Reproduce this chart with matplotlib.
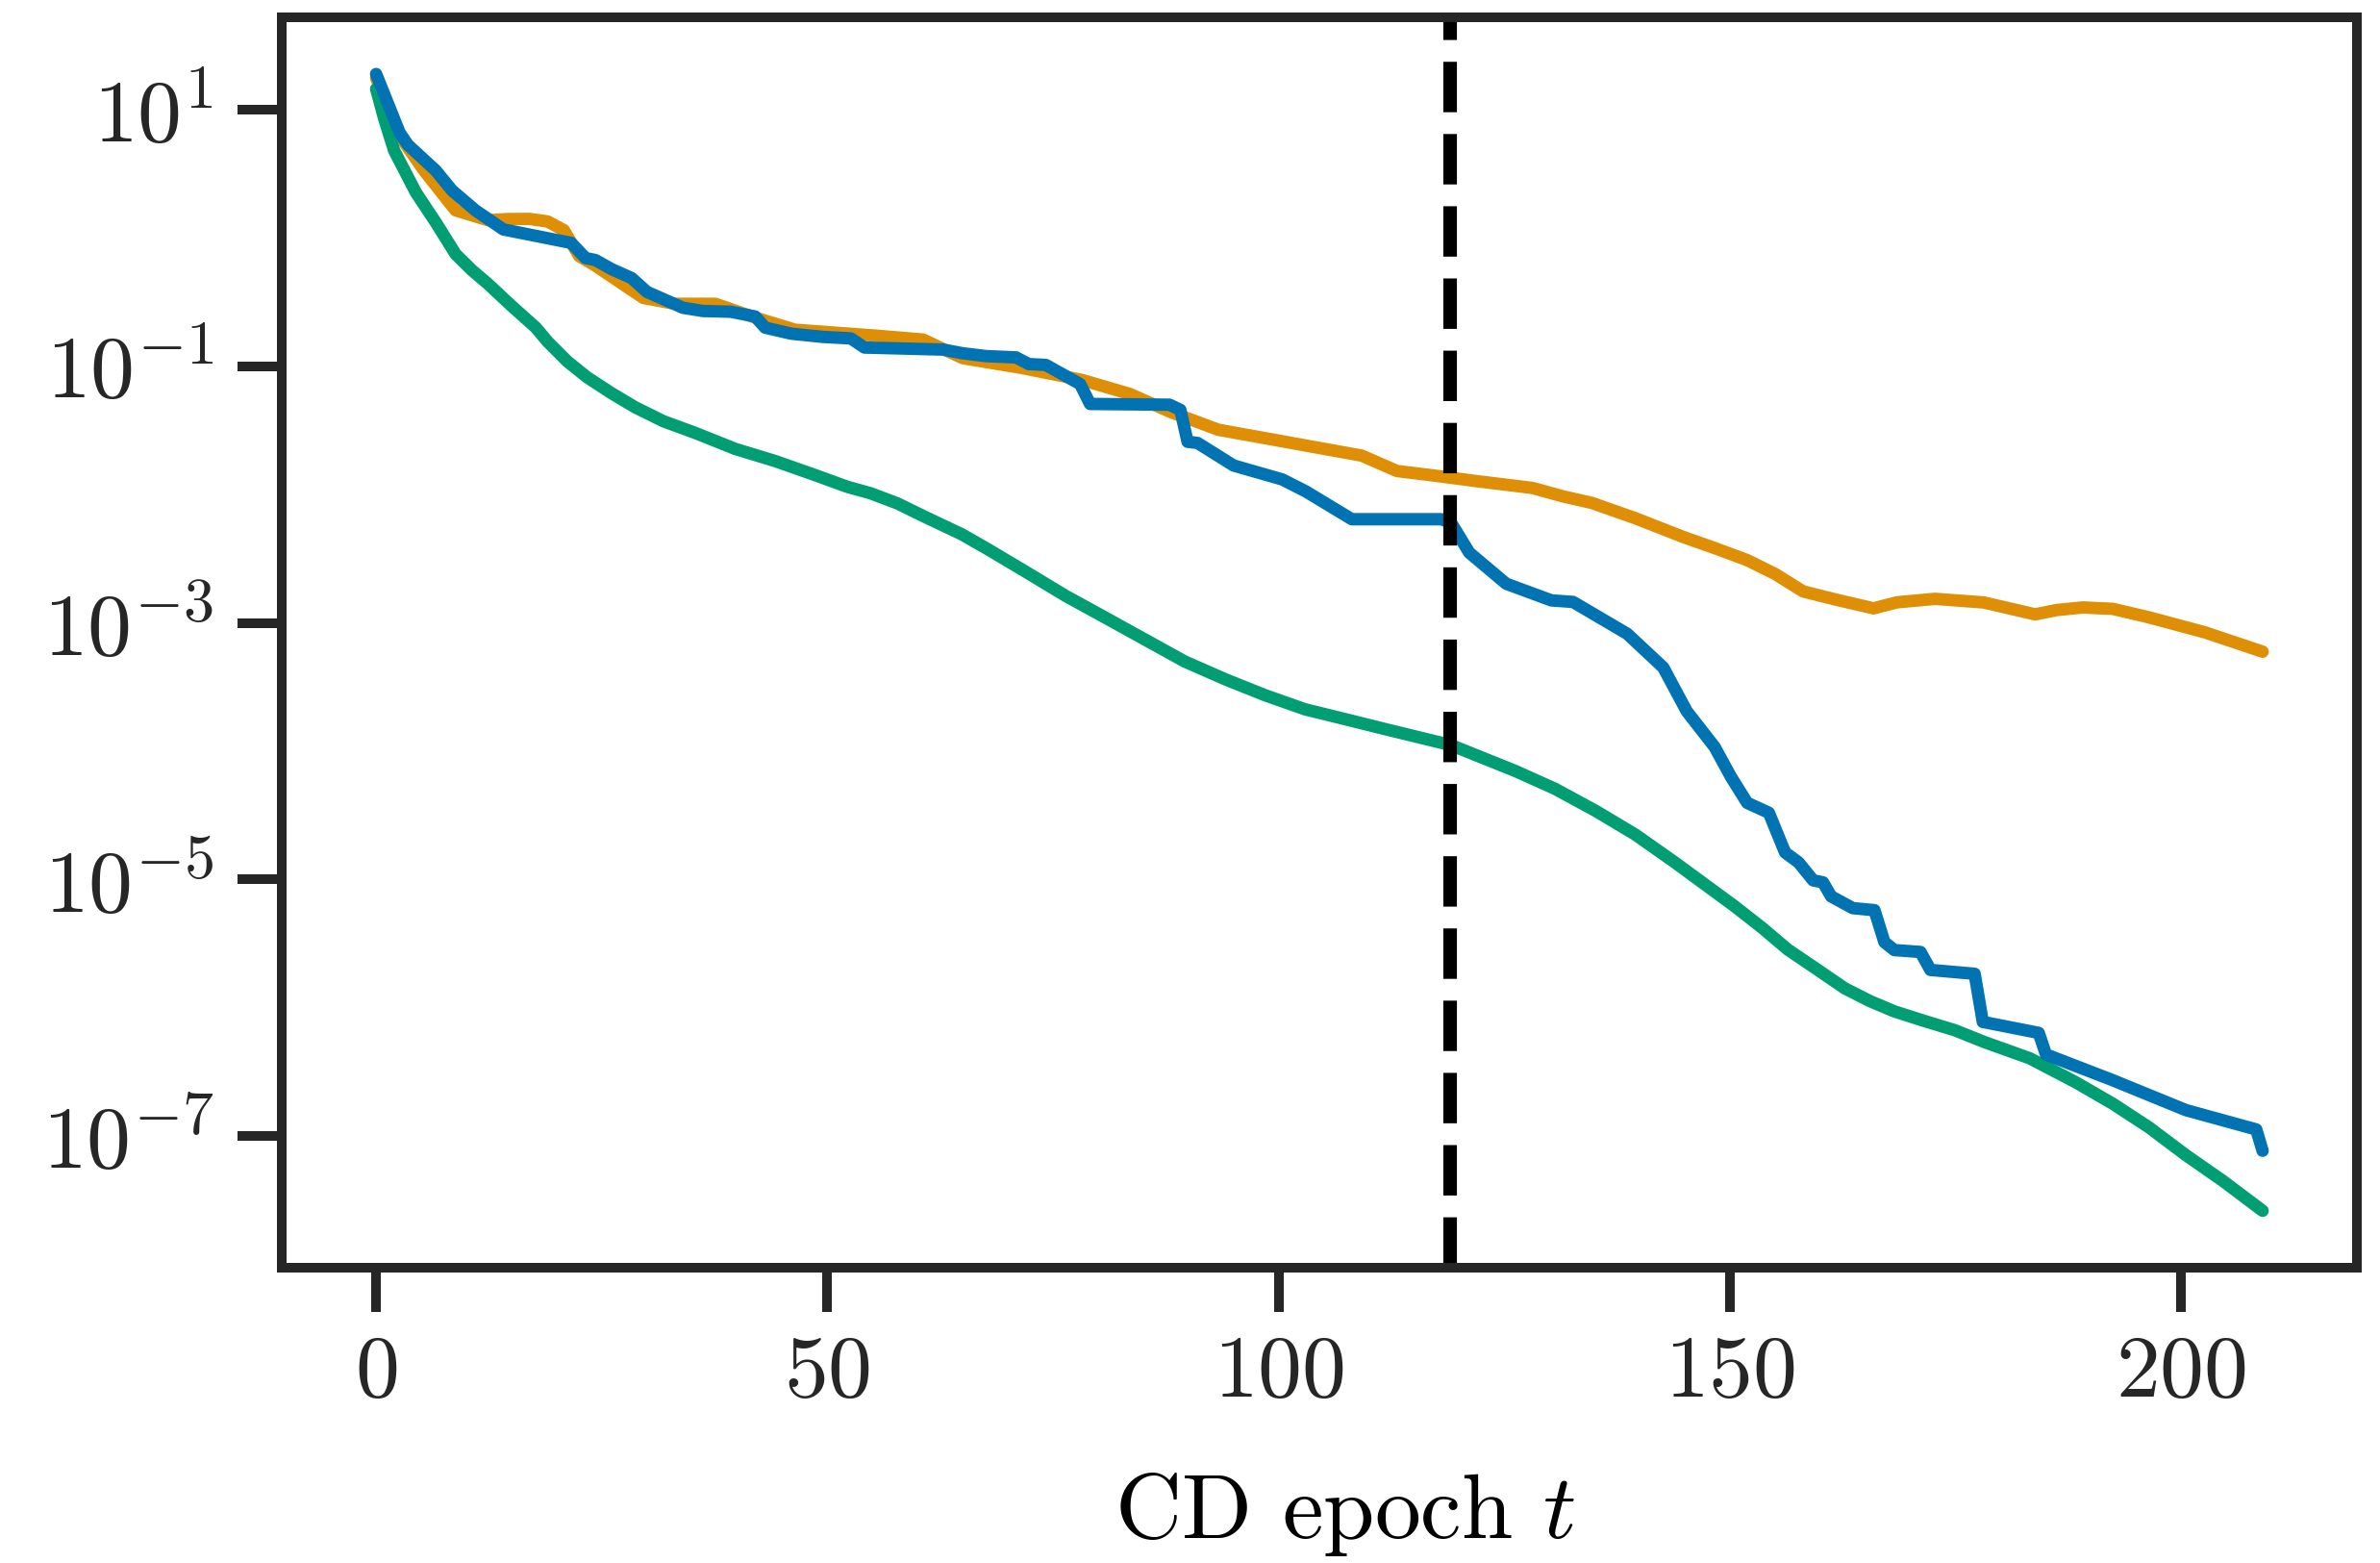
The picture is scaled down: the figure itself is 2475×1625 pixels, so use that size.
import matplotlib
matplotlib.use("Agg")
from matplotlib import pyplot as plt
import numpy as np

# values, stored as log10 of the plotted quantity
blue_t = [0, 2.6, 3.5, 6.6, 8.4, 11.0, 14.1, 21.6, 23.2, 24.3, 26.1, 28.3, 30.0,
          34.0, 36.2, 39.3, 42.0, 43.1, 46.0, 49.5, 52.6, 54.1, 62.8, 65.0, 67.6,
          70.9, 72.3, 74.2, 78.0, 79.1, 87.9, 89.1, 89.9, 91.0, 95.0, 100.4, 103.0,
          108.1, 118.0, 119.1, 121.1, 125.2, 130.2, 132.6, 138.6, 142.6, 145.2,
          148.3, 150.1, 151.9, 154.3, 156.1, 157.6, 159.2, 160.3, 161.2, 163.6,
          166.0, 167.1, 168.2, 171.1, 172.2, 177.1, 178.0, 184.2, 185.0, 192.4,
          200.5, 208.3, 209.0]
blue_log = [1.28, 0.823, 0.729, 0.528, 0.373, 0.217, 0.068, -0.037, -0.155, -0.171,
            -0.242, -0.311, -0.419, -0.543, -0.568, -0.574, -0.611, -0.698, -0.745,
            -0.770, -0.782, -0.853, -0.869, -0.898, -0.920, -0.930, -0.982, -0.989,
            -1.138, -1.293, -1.299, -1.339, -1.588, -1.597, -1.773, -1.882, -1.975,
            -2.192, -2.192, -2.220, -2.452, -2.695, -2.825, -2.837, -3.085, -3.348,
            -3.689, -3.969, -4.201, -4.404, -4.481, -4.791, -4.869, -5.008, -5.024,
            -5.133, -5.225, -5.241, -5.490, -5.552, -5.567, -5.707, -5.737, -6.112,
            -6.198, -6.366, -6.567, -6.800, -6.951, -7.117]

orange_t = [0, 2.6, 5.3, 8.8, 12.4, 14.6, 17.0, 19.0, 20.8, 22.5, 24.3, 29.6, 33.1,
            37.6, 42.0, 46.4, 55.3, 60.6, 65.0, 71.6, 78.2, 83.5, 88.0, 93.3, 109.2,
            113.1, 117.4, 121.7, 128.1, 131.5, 134.7, 139.5, 144.8, 148.3, 151.9,
            155.0, 158.1, 161.8, 165.9, 168.5, 172.7, 178.1, 183.8, 186.2, 189.1,
            192.4, 196.4, 202.6, 209.0]
orange_log = [1.25, 0.80, 0.528, 0.217, 0.140, 0.149, 0.150, 0.130, 0.062, -0.140,
              -0.215, -0.466, -0.512, -0.512, -0.620, -0.714, -0.760, -0.791, -0.936,
              -1.013, -1.106, -1.215, -1.355, -1.494, -1.696, -1.816, -1.853, -1.893,
              -1.948, -2.014, -2.065, -2.184, -2.330, -2.417, -2.511, -2.619, -2.755,
              -2.820, -2.887, -2.840, -2.813, -2.841, -2.934, -2.900, -2.880, -2.891,
              -2.957, -3.074, -3.225]

green_t = [0, 0.9, 2.0, 4.4, 6.6, 8.8, 10.6, 12.4, 15.0, 17.7, 19.0, 21.2, 23.4, 26.1,
           28.7, 31.8, 35.4, 39.8, 44.2, 48.6, 52.2, 54.8, 57.8, 60.7, 64.9, 67.8,
           72.0, 76.4, 80.8, 85.2, 89.6, 94.1, 98.5, 102.9, 107.4, 111.8, 119.1,
           126.2, 130.6, 135.1, 139.5, 143.9, 147.5, 150.5, 153.6, 156.4, 159.4,
           162.7, 165.5, 168.2, 171.3, 174.9, 178.2, 183.2, 188.3, 192.4, 196.4,
           200.5, 204.6, 209.0]
green_log = [1.164, 0.931, 0.683, 0.357, 0.124, -0.124, -0.249, -0.357, -0.528, -0.698,
             -0.807, -0.962, -1.086, -1.210, -1.319, -1.427, -1.520, -1.644, -1.738,
             -1.847, -1.939, -1.990, -2.070, -2.170, -2.310, -2.427, -2.603, -2.790,
             -2.960, -3.131, -3.302, -3.441, -3.565, -3.674, -3.752, -3.829, -3.954,
             -4.155, -4.294, -4.466, -4.651, -4.869, -5.055, -5.210, -5.381, -5.548,
             -5.691, -5.850, -5.950, -6.030, -6.100, -6.177, -6.270, -6.396, -6.583,
             -6.750, -6.934, -7.151, -7.352, -7.585]

t_switch = 119
ytick_exp = [1, -1, -3, -5, -7]
xtick_vals = [0, 50, 100, 150, 200]

plt.rcParams['font.family'] = 'serif'
plt.rcParams['font.serif'] = ['cmr10', 'DejaVu Serif']
plt.rcParams['mathtext.fontset'] = 'cm'
plt.rcParams['axes.formatter.use_mathtext'] = True
plt.rcParams['axes.unicode_minus'] = False

dark = '#262626'
fig = plt.figure(figsize=(8.25, 5.4167), dpi=300)
ax = fig.add_axes([0.1184, 0.189, 0.8719, 0.800])

style = dict(lw=3.1, solid_capstyle='round', solid_joinstyle='round')
ax.plot(orange_t, 10.0 ** np.array(orange_log), color='#de8f05', **style)
ax.plot(green_t, 10.0 ** np.array(green_log), color='#029e73', **style)
ax.plot(blue_t, 10.0 ** np.array(blue_log), color='#0173b2', **style)
ax.axvline(t_switch, color='black', ls='--', lw=3.4)

ax.set_yscale('log')
ax.set_yticks([10.0 ** e for e in ytick_exp])
ax.yaxis.set_major_formatter(matplotlib.ticker.FuncFormatter(
    lambda v, pos: r'$10^{%d}$' % int(round(np.log10(v)))))
ax.yaxis.set_minor_locator(matplotlib.ticker.NullLocator())
ax.set_xticks(xtick_vals)
ax.set_xticklabels([r'$%d$' % v for v in xtick_vals])

for s in ax.spines.values():
    s.set_linewidth(2.4)
    s.set_color(dark)
ax.tick_params(length=11, width=2.4, color=dark, labelcolor=dark,
               labelsize=22, pad=6)
ax.set_xlabel('CD epoch $t$', fontsize=23, color='black', labelpad=14)
ax.xaxis.label.set_x(0.5125)

fig.savefig('out.png', dpi=300, facecolor='white')
